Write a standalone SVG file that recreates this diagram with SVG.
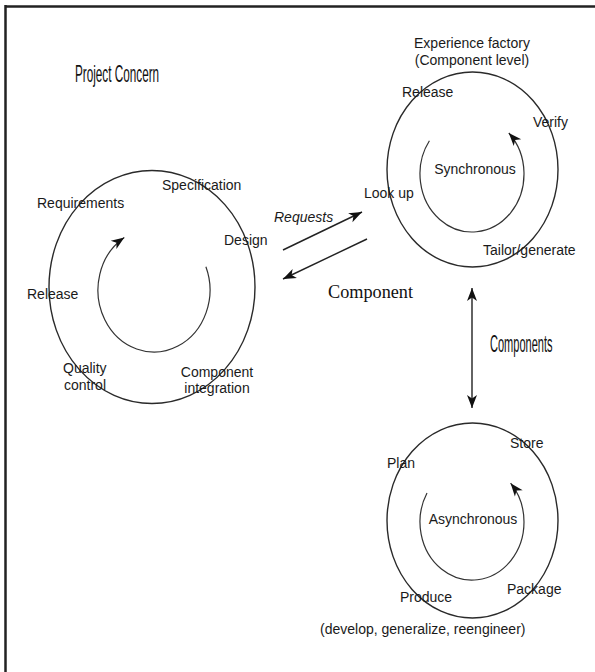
<svg xmlns="http://www.w3.org/2000/svg" width="595" height="672" viewBox="0 0 595 672">
<style>
.t{font-family:"Liberation Sans",Arial,sans-serif;font-size:14px;fill:#1a1a1a}
.c{font-family:"Liberation Sans",Arial,sans-serif;font-size:23px;fill:#111}
.s{font-family:"Liberation Serif","Times New Roman",serif;font-size:19px;fill:#111}
.ring{fill:none;stroke:#2a2a2a;stroke-width:1.4}
.arc{fill:none;stroke:#333;stroke-width:1.2}
.con{fill:none;stroke:#222;stroke-width:1.4}
</style>
<defs>
<marker id="ah" markerUnits="userSpaceOnUse" markerWidth="16" markerHeight="12" viewBox="-14 -6 15 12" refX="0" refY="0" orient="auto-start-reverse">
<path d="M0,0 L-13,-5 L-9.5,0 L-13,5 Z" fill="#111"/>
</marker>
</defs>
<rect width="595" height="672" fill="#fff"/>
<g id="frame">
<line x1="5" y1="6.5" x2="595" y2="6.5" stroke="#222" stroke-width="2.5"/>
<line x1="5.5" y1="5" x2="5.5" y2="672" stroke="#222" stroke-width="2.5"/>
</g>
<g id="project">
<text class="c" transform="translate(75,82) scale(0.51,1)">Project Concern</text>
<ellipse class="ring" cx="152" cy="287" rx="103" ry="116.5"/>
<path class="arc" d="M205.9,266.8 A56,62 0 1 1 124.3,237.4" marker-end="url(#ah)"/>
<text class="t" x="162" y="190">Specification</text>
<text class="t" x="37" y="208">Requirements</text>
<text class="t" x="224" y="245">Design</text>
<text class="t" x="27" y="299">Release</text>
<text class="t" x="63" y="373">Quality</text>
<text class="t" x="64" y="390">control</text>
<text class="t" x="217" y="377" text-anchor="middle">Component</text>
<text class="t" x="217" y="393" text-anchor="middle">integration</text>
</g>
<g id="factory">
<text class="t" x="472" y="48" text-anchor="middle">Experience factory</text>
<text class="t" x="472" y="65" text-anchor="middle">(Component level)</text>
<ellipse class="ring" cx="472.5" cy="169.5" rx="85.5" ry="97.5"/>
<path class="arc" d="M429.4,140.7 A52,58 0 1 0 508.8,133" marker-end="url(#ah)"/>
<text class="t" x="402" y="97">Release</text>
<text class="t" x="533" y="127">Verify</text>
<text class="t" x="475" y="174" text-anchor="middle">Synchronous</text>
<text class="t" x="364" y="198">Look up</text>
<text class="t" x="483" y="255">Tailor/generate</text>
</g>
<g id="async">
<ellipse class="ring" cx="472.5" cy="520.5" rx="85.5" ry="97.5"/>
<path class="arc" d="M427,493 A52,58 0 1 0 510.6,483.2" marker-end="url(#ah)"/>
<text class="t" x="510" y="448">Store</text>
<text class="t" x="387" y="468">Plan</text>
<text class="t" x="473" y="524" text-anchor="middle">Asynchronous</text>
<text class="t" x="507" y="594">Package</text>
<text class="t" x="400" y="602">Produce</text>
<text class="t" x="320" y="634">(develop, generalize, reengineer)</text>
</g>
<g id="connectors">
<line class="con" x1="283" y1="250" x2="362" y2="212" marker-end="url(#ah)"/>
<line class="con" x1="367" y1="239" x2="283" y2="279" marker-end="url(#ah)"/>
<line class="con" x1="472" y1="288" x2="472" y2="408" marker-start="url(#ah)" marker-end="url(#ah)"/>
<text x="274" y="222" style="font-family:'Liberation Sans',Arial,sans-serif;font-size:14px;font-style:italic;fill:#1a1a1a">Requests</text>
<text class="s" x="328" y="298" textLength="85" lengthAdjust="spacingAndGlyphs">Component</text>
<text class="c" transform="translate(490,352) scale(0.48,1)">Components</text>
</g>
</svg>
